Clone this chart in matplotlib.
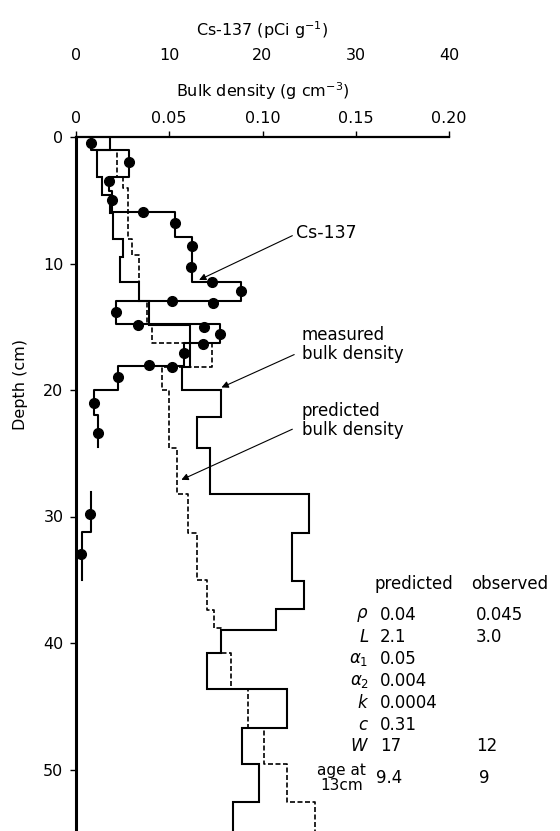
import numpy as np
import matplotlib.pyplot as plt

plt.rcParams['font.family'] = 'DejaVu Sans'
plt.rcParams['font.size'] = 11.5

# Cs-137 activity: step profile (depth boundaries in cm, value in pCi/g)
cs_bounds_upper = [0, 1.0, 3.2, 4.3, 5.9, 7.9, 11.5, 13.0, 14.8, 16.3, 18.1, 20.0, 22.0, 24.5]
cs_values_upper = [1.6, 5.7, 3.5, 3.9, 10.6, 12.4, 17.7, 4.3, 15.4, 11.6, 4.5, 1.9, 2.35]
cs_bounds_lower = [28.1, 31.2, 35.0]
cs_values_lower = [1.6, 0.6]

# Cs-137 sample points
cs_point_depth = [0.5, 1.95, 3.45, 5.0, 5.9, 6.8, 8.6, 10.3, 11.5, 12.2, 13.1, 13.0, 13.8,
                  14.9, 15.0, 15.6, 16.4, 17.1, 18.2, 18.0, 19.0, 21.0, 23.4, 29.8, 33.0]
cs_point_value = [1.6, 5.7, 3.5, 3.9, 7.2, 10.6, 12.4, 12.3, 14.6, 17.7, 14.7, 10.3, 4.3,
                  6.6, 13.7, 15.4, 13.6, 11.6, 10.3, 7.8, 4.5, 1.9, 2.35, 1.5, 0.5]

# measured bulk density (g/cm3)
meas_bounds = [0, 1.0, 3.2, 4.6, 6.0, 8.1, 9.5, 11.5, 13.0, 14.9, 18.2, 20.0, 22.1, 24.6,
               28.2, 31.3, 35.1, 37.3, 39.0, 40.8, 43.6, 46.7, 49.6, 52.6, 56.0]
meas_values = [0.018, 0.011, 0.014, 0.018, 0.020, 0.025, 0.0235, 0.034, 0.039, 0.061,
               0.057, 0.078, 0.065, 0.072, 0.125, 0.116, 0.122, 0.107, 0.078, 0.070,
               0.113, 0.089, 0.098, 0.084]

# predicted bulk density (g/cm3)
pred_bounds = [0, 1.0, 3.2, 4.0, 8.1, 9.3, 13.0, 14.8, 16.3, 18.2, 20.0, 24.6, 28.2,
               31.3, 35.0, 37.4, 38.8, 40.8, 43.6, 46.7, 49.6, 52.6, 56.0]
pred_values = [0.018, 0.022, 0.025, 0.028, 0.030, 0.034, 0.038, 0.041, 0.073, 0.046,
               0.050, 0.054, 0.060, 0.065, 0.070, 0.074, 0.078, 0.083, 0.092, 0.101,
               0.113, 0.128]

# model parameters table
table_symbols = [r'$\rho$', r'$L$', r'$\alpha_1$', r'$\alpha_2$', r'$k$', r'$c$', r'$W$']
table_predicted = ['0.04', '2.1', '0.05', '0.004', '0.0004', '0.31', '17']
table_observed = ['0.045', '3.0', '', '', '', '', '12']
age_predicted = '9.4'
age_observed = '9'

bd_ticks = [0, 0.05, 0.10, 0.15, 0.20]
bd_ticklabels = ['0', '0.05', '0.10', '0.15', '0.20']
cs_ticks = [0, 10, 20, 30, 40]
depth_ticks = [0, 10, 20, 30, 40, 50]


def step_path(bounds, values):
    xs, ys = [], []
    for i, v in enumerate(values):
        xs += [v, v]
        ys += [bounds[i], bounds[i + 1]]
    return xs, ys


fig = plt.figure(figsize=(5.6, 8.31), dpi=100)
ax = fig.add_axes([76 / 560, 0, 373 / 560, 694 / 831])

# bulk density profiles
x, y = step_path(meas_bounds, meas_values)
ax.plot(x, y, color='black', lw=1.5, solid_joinstyle='miter')
x, y = step_path(pred_bounds, pred_values)
ax.plot(x, y, color='black', lw=1.2, linestyle=(0, (3, 1.5)))

ax.set_xlim(0, 0.2)
ax.set_ylim(694 / 12.65, 0)
ax.set_yticks(depth_ticks)
ax.spines['right'].set_visible(False)
ax.spines['bottom'].set_visible(False)
ax.spines['left'].set_linewidth(2.2)
ax.spines['top'].set_linewidth(1.6)
ax.set_ylabel('Depth (cm)')
ax.yaxis.set_label_coords(-0.13, 0.643)

# Cs-137 on its own top axis
ax_cs = ax.twiny()
ax_cs.set_xlim(0, 40)
x, y = step_path(cs_bounds_upper, cs_values_upper)
ax_cs.plot(x, y, color='black', lw=1.5)
x, y = step_path(cs_bounds_lower, cs_values_lower)
ax_cs.plot(x, y, color='black', lw=1.5)
ax_cs.plot(cs_point_value, cs_point_depth, 'o', color='black', markersize=7)
ax_cs.set_xticks(cs_ticks)
ax_cs.spines['top'].set_position(('axes', 1.098))
for s in ax_cs.spines.values():
    s.set_visible(False)
ax_cs.tick_params(axis='x', length=0, pad=4)
ax_cs.set_xlabel('Cs-137 (pCi g$^{-1}$)', labelpad=9)

# bulk density axis on top (after twiny, which moves ticks to the bottom)
ax.xaxis.set_ticks_position('top')
ax.xaxis.set_label_position('top')
ax.set_xticks(bd_ticks)
ax.set_xticklabels(bd_ticklabels)
ax.tick_params(axis='x', direction='out', length=4, width=1, pad=4)
ax.tick_params(axis='y', direction='out', length=4, width=1, pad=5)
ax.set_xlabel('Bulk density (g cm$^{-3}$)', labelpad=10)

# labels with arrows
arrow = dict(arrowstyle='-|>', color='black', lw=0.8, mutation_scale=10,
             shrinkA=0, shrinkB=0)
ax.annotate('', xy=(0.066, 11.3), xytext=(0.116, 7.8), arrowprops=arrow,
            annotation_clip=False)
ax.text(0.118, 7.6, 'Cs-137', fontsize=12.5, ha='left', va='center')
ax.annotate('', xy=(0.078, 19.8), xytext=(0.117, 17.2), arrowprops=arrow,
            annotation_clip=False)
ax.text(0.121, 16.4, 'measured\nbulk density', fontsize=12, ha='left', va='center',
        linespacing=1.1)
ax.annotate('', xy=(0.0565, 27.1), xytext=(0.116, 23.1), arrowprops=arrow,
            annotation_clip=False)
ax.text(0.121, 22.4, 'predicted\nbulk density', fontsize=12, ha='left', va='center',
        linespacing=1.1)

# parameter table
row0, step = 37.8, 1.73
ax.text(0.160, 35.3, 'predicted', fontsize=12, ha='left', va='center', clip_on=False)
ax.text(0.212, 35.3, 'observed', fontsize=12, ha='left', va='center', clip_on=False)
for i, (sym, p, o) in enumerate(zip(table_symbols, table_predicted, table_observed)):
    d = row0 + i * step
    ax.text(0.157, d, sym, fontsize=12, ha='right', va='center', clip_on=False)
    ax.text(0.163, d, p, fontsize=12, ha='left', va='center', clip_on=False)
    ax.text(0.2144, d, o, fontsize=12, ha='left', va='center', clip_on=False)
d_age = row0 + len(table_symbols) * step + 0.77
ax.text(0.1425, d_age, 'age at\n13cm', fontsize=11, ha='center', va='center',
        multialignment='center', linespacing=1.0, clip_on=False)
ax.text(0.161, d_age, age_predicted, fontsize=12, ha='left', va='center', clip_on=False)
ax.text(0.2160, d_age, age_observed, fontsize=12, ha='left', va='center', clip_on=False)

fig.savefig('out.png', dpi=100)
